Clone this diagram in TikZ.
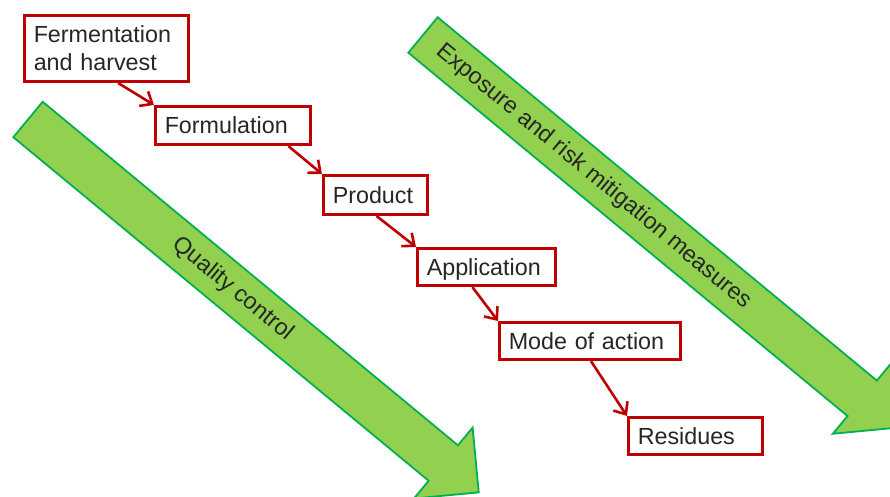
\documentclass[tikz,border=0pt]{standalone}
\usepackage{fontspec}
\setmainfont{Liberation Sans}
\usetikzlibrary{arrows.meta,calc}
\definecolor{boxred}{RGB}{192,0,0}
\definecolor{arrfill}{RGB}{146,208,80}
\definecolor{arrline}{RGB}{0,176,80}
\begin{document}
\begin{tikzpicture}[x=1pt,y=-1pt,
  stepbox/.style={draw=boxred, line width=2.6pt, fill=white, rectangle,
    inner xsep=9.5pt, inner ysep=0pt, align=left,
    font=\fontsize{23.3}{28}\selectfont, text=black!85},
  flow/.style={draw=boxred, line width=2.6pt,
    -{Straight Barb[length=10pt,width=17pt,line width=2.6pt]}},
  bigarrow/.style={fill=arrfill, draw=arrline, line width=1.8pt, line join=miter},
  arrtext/.style={font=\fontsize{23.3}{28}\selectfont, text=black!85, rotate=-39.6, inner sep=0pt}
]
\useasboundingbox (0,0) rectangle (890,497);
\clip (0,0) rectangle (890,497);
\fill[white] (0,0) rectangle (890,497);

% green arrows
\begin{scope}[shift={(28,119.5)}, rotate=-39.6]
  \draw[bigarrow] (0,-23) -- (539,-23) -- (539,-46) -- (585,0) -- (539,46) -- (539,23) -- (0,23) -- cycle;
  \node[arrtext] (qc) at (266,0) {Quality control};
\end{scope}
\begin{scope}[shift={(423,35)}, rotate=-39.6]
  \draw[bigarrow] (0,-23) -- (570,-23) -- (570,-46) -- (616,0) -- (570,46) -- (570,23) -- (0,23) -- cycle;
  \node[arrtext] (erm) at (222,0) {Exposure and risk mitigation measures};
\end{scope}

% boxes
\node[stepbox, text width=145.5pt, minimum height=66.5pt] (ferm) at (106.5,48.5) {Fermentation\\and harvest};
\node[stepbox, text width=136.5pt, minimum height=38.5pt, text height=16.7pt, text depth=0pt] (form) at (233,125.5) {Formulation};
\node[stepbox, text width=85.5pt, minimum height=39.5pt, text height=16.7pt, text depth=0pt] (prod) at (375.5,195) {Product};
\node[stepbox, text width=119.5pt, minimum height=37.5pt, text height=16.7pt, text depth=0pt] (appl) at (486.5,267) {Application};
\node[stepbox, text width=162.5pt, minimum height=37.5pt, text height=16.7pt, text depth=0pt] (mode) at (590,341) {Mode of action};
\node[stepbox, text width=115.5pt, minimum height=37.5pt, text height=16.7pt, text depth=0pt] (resi) at (695.5,436) {Residues};

% connectors
\draw[flow] ($(ferm.south west)!0.57!(ferm.south east)$) -- (form.north west);
\draw[flow] ($(form.south west)!0.85!(form.south east)$) -- (prod.north west);
\draw[flow] ($(prod.south west)!0.51!(prod.south east)$) -- (appl.north west);
\draw[flow] ($(appl.south west)!0.40!(appl.south east)$) -- (mode.north west);
\draw[flow] ($(mode.south west)!0.505!(mode.south east)$) -- (resi.north west);
\end{tikzpicture}
\end{document}
